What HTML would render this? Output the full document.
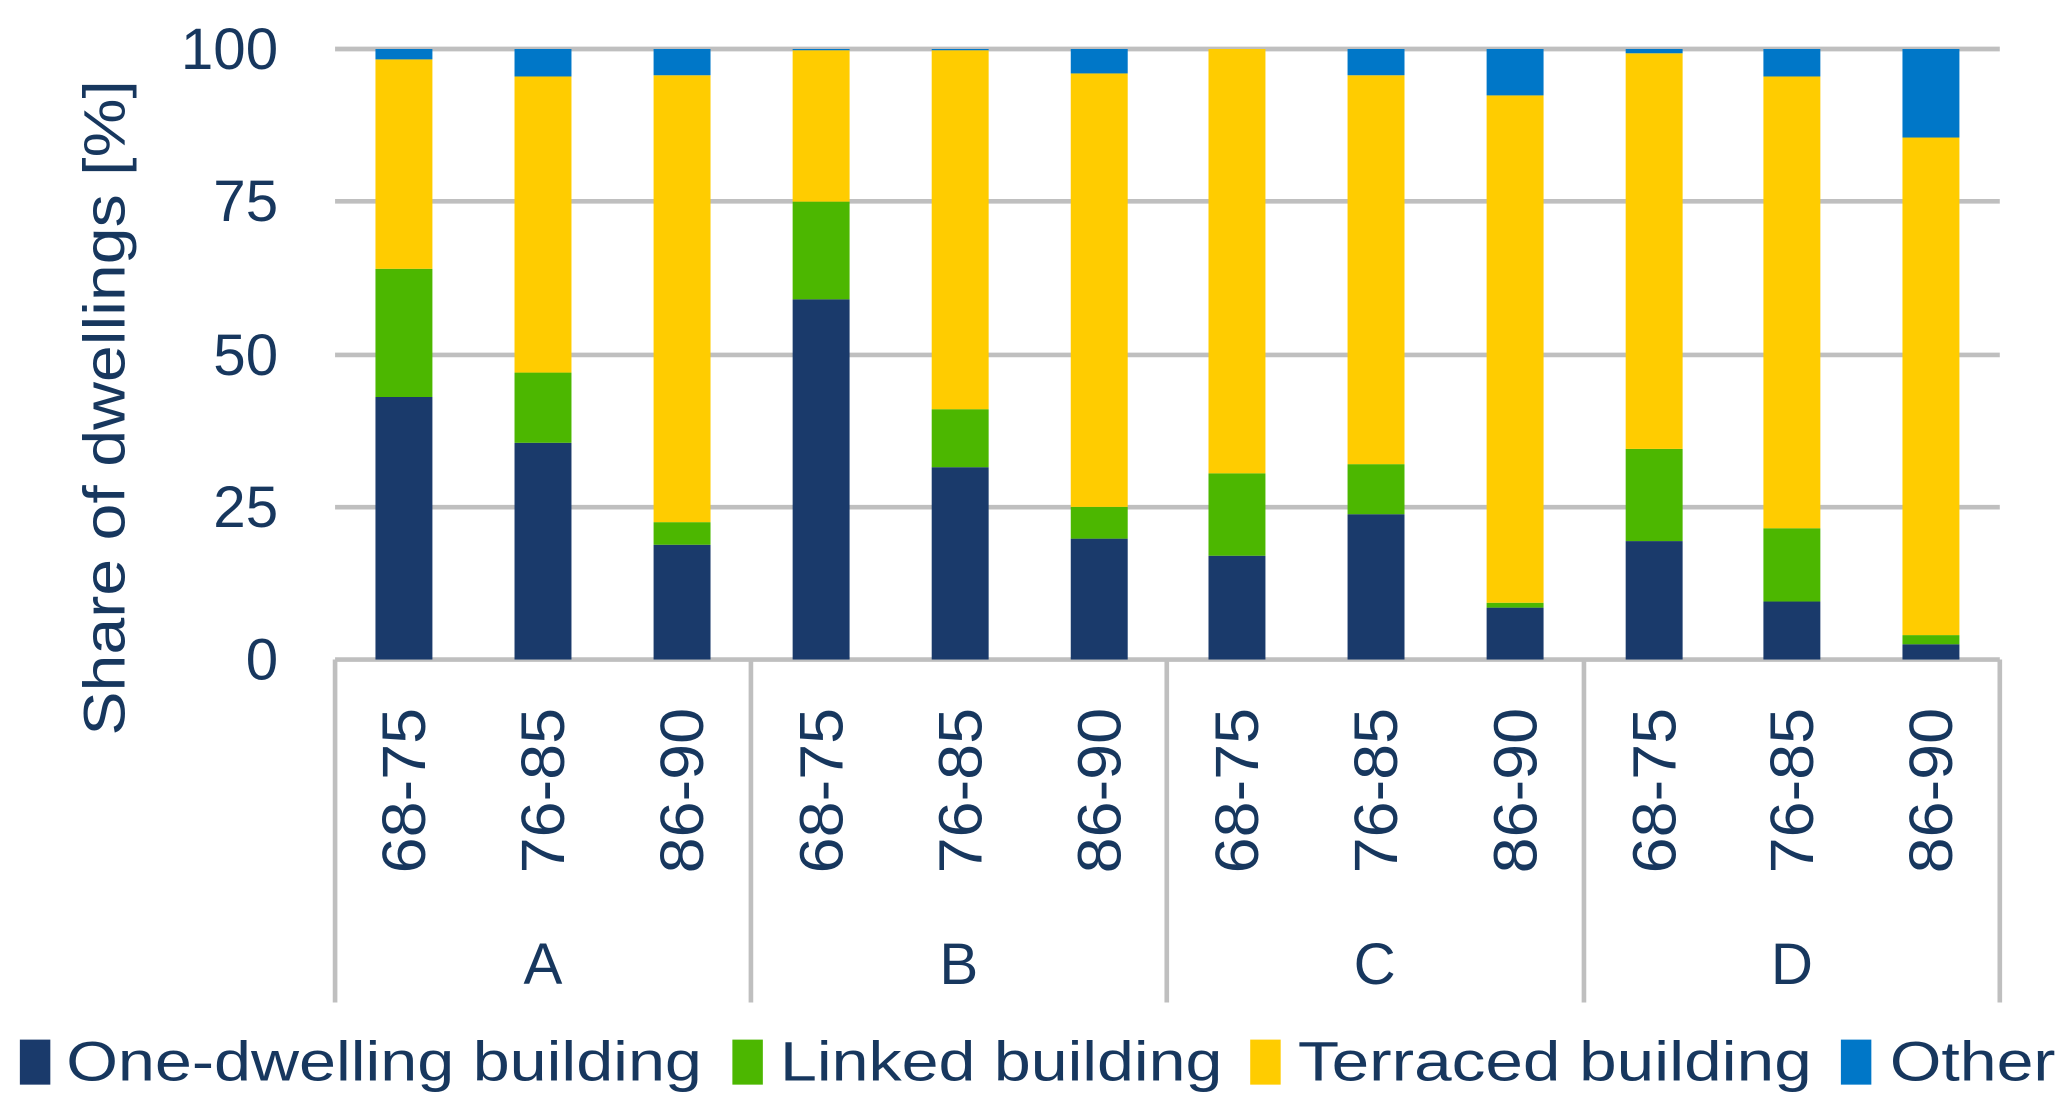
<!DOCTYPE html>
<html><head><meta charset="utf-8"><style>html,body{margin:0;padding:0;background:#fff}svg{display:block}</style></head>
<body>
<svg width="2070" height="1120" viewBox="0 0 1563 845.7" preserveAspectRatio="none" xmlns="http://www.w3.org/2000/svg" font-family="Liberation Sans, Arial, sans-serif" fill="#17375e">
<g stroke="#bfbfbf" stroke-width="3.5">
<line x1="253" y1="37" x2="1510" y2="37"/>
<line x1="253" y1="152" x2="1510" y2="152"/>
<line x1="253" y1="268" x2="1510" y2="268"/>
<line x1="253" y1="383" x2="1510" y2="383"/>
<line x1="253" y1="498" x2="1510" y2="498"/>
<line x1="253" y1="498" x2="253" y2="757"/>
<line x1="567" y1="498" x2="567" y2="757"/>
<line x1="881" y1="498" x2="881" y2="757"/>
<line x1="1196" y1="498" x2="1196" y2="757"/>
<line x1="1510" y1="498" x2="1510" y2="757"/>
</g>
<g id="bars"></g>
<g font-size="44" text-anchor="end">
<text x="210" y="52">100</text>
<text x="210" y="167">75</text>
<text x="210" y="283">50</text>
<text x="210" y="398">25</text>
<text x="210" y="513">0</text>
</g>
<text transform="translate(94,308) rotate(-90)" font-size="44" text-anchor="middle" textLength="495" lengthAdjust="spacingAndGlyphs">Share of dwellings  [%]</text>
<g font-size="44" text-anchor="middle">
<text x="410" y="743">A</text><text x="724" y="743">B</text><text x="1038" y="743">C</text><text x="1353" y="743">D</text>
</g>
<g id="cats" font-size="46" text-anchor="middle"></g>
<g font-size="42">
<rect x="15" y="785" width="23" height="34" fill="#1a3a6b"/><text x="50" y="816" textLength="480" lengthAdjust="spacingAndGlyphs">One-dwelling building</text>
<rect x="553" y="785" width="23" height="34" fill="#4cb700"/><text x="589" y="816" textLength="334" lengthAdjust="spacingAndGlyphs">Linked building</text>
<rect x="944" y="785" width="23" height="34" fill="#ffcc00"/><text x="980" y="816" textLength="388" lengthAdjust="spacingAndGlyphs">Terraced building</text>
<rect x="1390" y="785" width="23" height="34" fill="#0077c8"/><text x="1427" y="816" textLength="125" lengthAdjust="spacingAndGlyphs">Other</text>
</g>
<script>
var d=[[43,64,98.3],[35.5,47,95.5],[18.8,22.5,95.7],[59,75,99.8],[31.5,41,99.8],[19.8,25,96],[17,30.5,100],[23.8,32,95.7],[8.5,9.3,92.4],[19.4,34.5,99.3],[9.5,21.5,95.5],[2.5,4,85.5]];
var cx=[305,410,515,620,725,830,934,1039,1144,1249,1353,1458];
var lab=["68-75","76-85","86-90"];
var ns="http://www.w3.org/2000/svg",g=document.getElementById("bars"),c=document.getElementById("cats");
function Y(v){return 498-v*4.61;}
var cols=["#1a3a6b","#4cb700","#ffcc00","#0077c8"];
d.forEach(function(r,i){var s=[0,r[0],r[1],r[2],100];
for(var k=0;k<4;k++){var a=Y(s[k]),b=Y(s[k+1]);if(a-b<=0)continue;var e=document.createElementNS(ns,"rect");
e.setAttribute("x",cx[i]-21.5);e.setAttribute("width",43);e.setAttribute("y",b);e.setAttribute("height",a-b);e.setAttribute("fill",cols[k]);g.appendChild(e);}
var t=document.createElementNS(ns,"text");t.setAttribute("transform","translate("+(cx[i]+16)+",597) rotate(-90)");t.setAttribute("textLength","125");t.setAttribute("lengthAdjust","spacingAndGlyphs");t.textContent=lab[i%3];c.appendChild(t);});
</script>
</svg>
</body></html>
